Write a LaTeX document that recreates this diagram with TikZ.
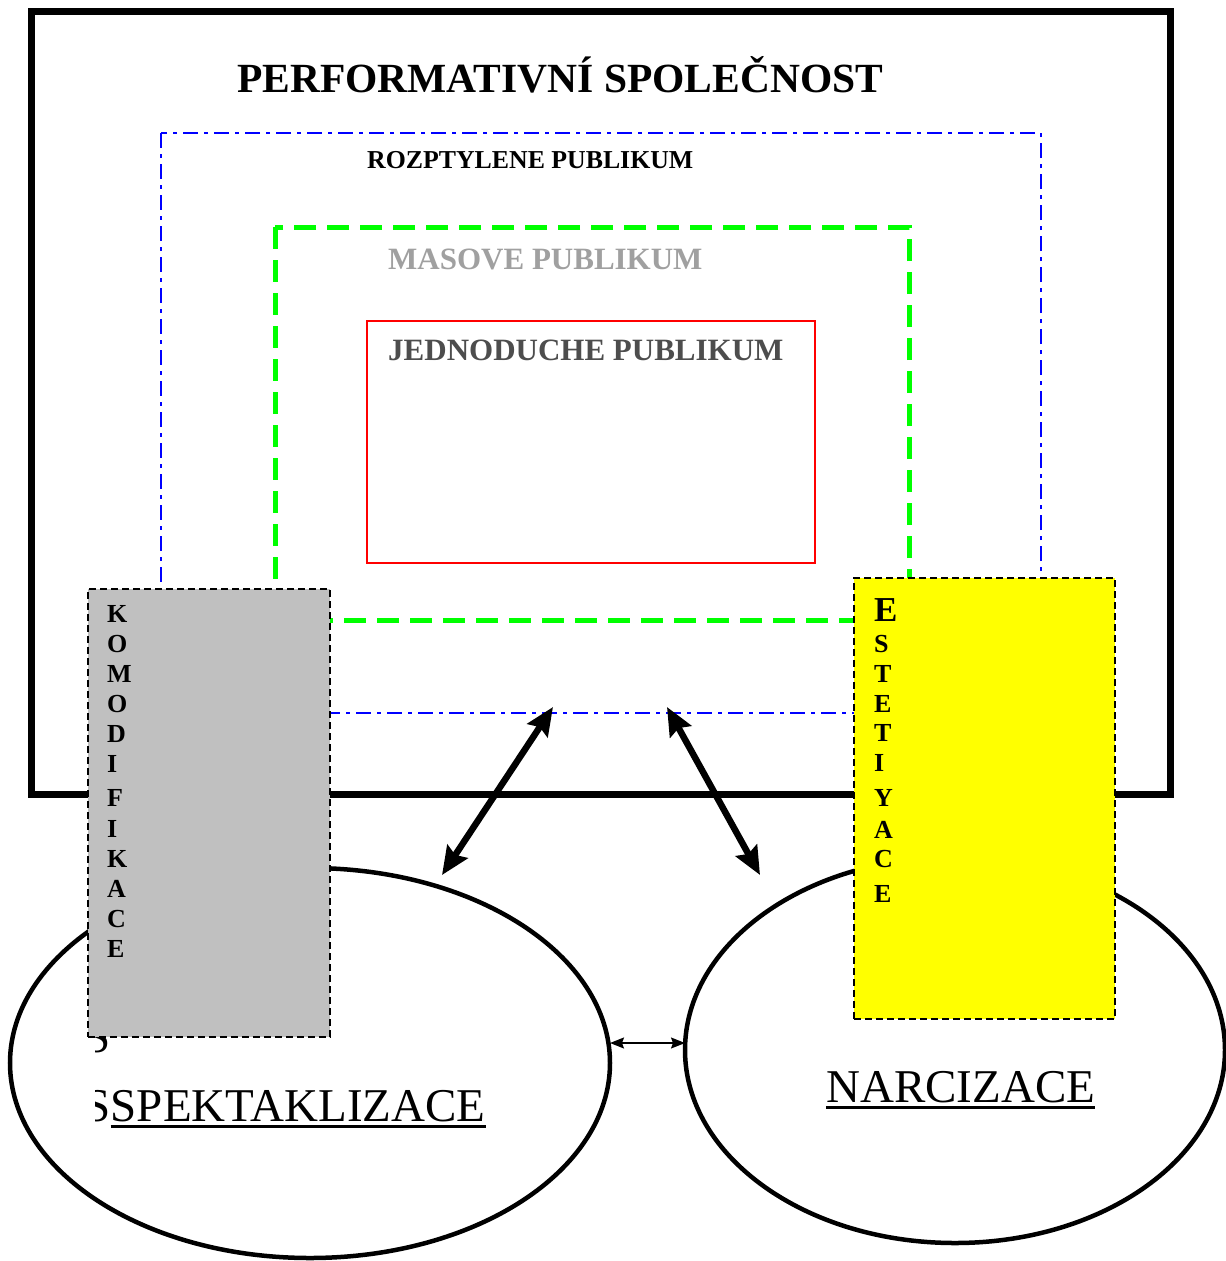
\documentclass[tikz,border=0pt]{standalone}
\usepackage{fontspec}
\setmainfont{Liberation Serif}
\usetikzlibrary{arrows.meta}
\definecolor{boxgrey}{HTML}{C0C0C0}
\definecolor{masgrey}{HTML}{A0A0A0}
\definecolor{jedgrey}{HTML}{4D4D4D}
\definecolor{pureblue}{RGB}{0,0,255}
\definecolor{puregreen}{RGB}{0,255,0}
\definecolor{purered}{RGB}{255,0,0}
\definecolor{pureyellow}{RGB}{255,255,0}
\begin{document}
\begin{tikzpicture}[x=1pt,y=-1pt,
  txt/.style={inner sep=0pt,anchor=base west},
  vlet/.style={inner sep=0pt,anchor=base west,font=\fontsize{26}{30}\selectfont\bfseries},
  sidebox/.style={draw=black,line width=1.5pt,dash pattern=on 7pt off 4pt},
  bigarrow/.style={line width=6.5pt,{Stealth[length=28pt,width=24pt,inset=4pt]}-{Stealth[length=28pt,width=24pt,inset=4pt]}},
  smallarrow/.style={line width=1.5pt,{Stealth[length=14pt,width=11pt,inset=2pt]}-{Stealth[length=14pt,width=11pt,inset=2pt]}}
]
\useasboundingbox (0,0) rectangle (1226,1261);
\fill[white] (0,0) rectangle (1226,1261);

% outer frame
\draw[line width=7pt] (31,11) rectangle (1170,794);
\node[txt,font=\fontsize{41.5}{49}\selectfont\bfseries] (title) at (237,92) {PERFORMATIVNÍ SPOLEČNOST};

% nested publics
\draw[pureblue,line width=2pt,dash pattern=on 15pt off 6pt on 4pt off 6pt] (161,133) rectangle (1041,713);
\node[txt,font=\fontsize{25.8}{30}\selectfont\bfseries] (rozp) at (367,168) {ROZPTYLENE PUBLIKUM};
\draw[puregreen,line width=5pt,dash pattern=on 22pt off 11pt] (275,227) rectangle (909,620);
\node[txt,masgrey,font=\fontsize{31}{36}\selectfont\bfseries] (mas) at (388,269) {MASOVE PUBLIKUM};
\draw[purered,line width=1.5pt] (367,321) rectangle (815,563);
\node[txt,jedgrey,font=\fontsize{31}{36}\selectfont\bfseries] (jed) at (388,360) {JEDNODUCHE PUBLIKUM};

% ellipses
\draw[line width=4.5pt] (310,1063) ellipse [x radius=300, y radius=195];
\draw[line width=4.5pt] (955,1050) ellipse [x radius=270, y radius=193];

% spektaklizace text (first letter clipped)
\begin{scope}
\clip (95,980) rectangle (600,1200);
\node[txt,font=\fontsize{47}{56}\selectfont] (s0) at (84,1052) {S};
\node[txt,font=\fontsize{47}{56}\selectfont] (s1) at (84,1121) {S};
\end{scope}
\node[txt,font=\fontsize{47}{56}\selectfont] (spek) at (s1.base east) {SPEKTAKLIZACE};
\draw[line width=3pt] ([yshift=-5pt]spek.base west) -- ([yshift=-5pt]spek.base east);
\node[txt,font=\fontsize{47}{56}\selectfont] (narc) at (826,1102) {NARCIZACE};
\draw[line width=3pt] ([yshift=-5pt]narc.base west) -- ([yshift=-5pt]narc.base east);

% side boxes
\node[sidebox,fill=boxgrey,minimum width=242pt,minimum height=448pt,inner sep=0pt,anchor=north west] (komo) at (87,588) {};
\foreach \l/\y in {K/622,O/652,M/682,O/712,D/742,I/772,F/806,I/837,K/867,A/897,C/927,E/957}{
  \node[vlet] at (107,\y) {\l};
}
\node[sidebox,fill=pureyellow,minimum width=261pt,minimum height=441pt,inner sep=0pt,anchor=north west] (este) at (853,577) {};
\node[txt,font=\fontsize{35}{40}\selectfont\bfseries] at (874,621) {E};
\foreach \l/\y in {S/652,T/682,E/712,T/741,I/771,Y/806,A/838,C/867,E/902}{
  \node[vlet] at (874,\y) {\l};
}

% arrows
\coordinate (a1top) at (553,707);
\coordinate (a1bot) at (442,875);
\coordinate (a2top) at (667,707);
\coordinate (a2bot) at (760,875);
\draw[bigarrow] (a1bot) -- (a1top);
\draw[bigarrow] (a2top) -- (a2bot);
\coordinate (lE) at (610,1043);
\coordinate (rE) at (685,1043);
\draw[smallarrow] (lE) -- (rE);
\end{tikzpicture}
\end{document}
